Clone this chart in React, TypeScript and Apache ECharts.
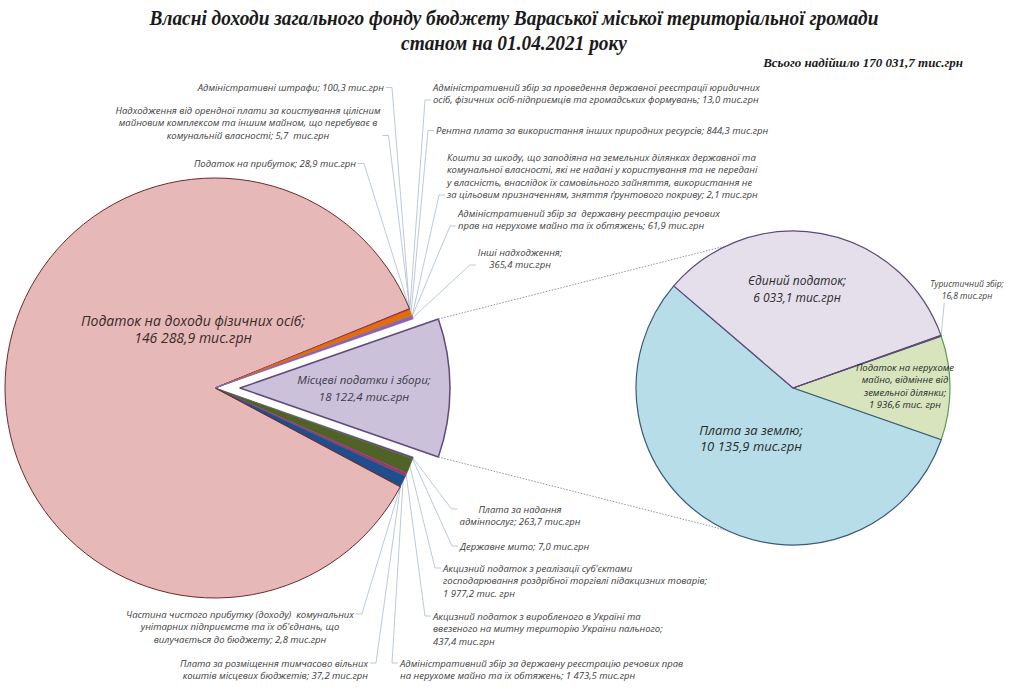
import React, { useEffect, useRef } from "react";
import * as echarts from "echarts";

const TITLE_TEXT =
  "Власні доходи загального фонду бюджету Вараської міської територіальної громади\nстаном на 01.04.2021 року";
const TOTAL_TEXT = "Всього надійшло 170 031,7 тис.грн";

// Main pie (clockwise from the exploded slice)
const mainNames = [
  "Місцеві податки і збори",
  "Плата за надання адмінпослуг",
  "Державне мито",
  "Акцизний податок з реалізації суб'єктами господарювання роздрібної торгівлі підакцизних товарів",
  "Акцизний податок з виробленого в Україні та ввезеного на митну територію України пального",
  "Адміністративний збір за державну реєстрацію речових прав на нерухоме майно та їх обтяжень",
  "Плата за розміщення тимчасово вільних коштів місцевих бюджетів",
  "Частина чистого прибутку (доходу) комунальних унітарних підприємств",
  "Податок на доходи фізичних осіб",
  "Адміністративні штрафи",
  "Надходження від орендної плати",
  "Податок на прибуток",
  "Адміністративний збір за проведення державної реєстрації",
  "Рентна плата за використання інших природних ресурсів",
  "Кошти за шкоду",
  "Адміністративний збір за державну реєстрацію речових прав (61,9)",
  "Інші надходження",
];
const mainValues = [
  18122.4, 263.7, 7.0, 1977.2, 437.4, 1473.5, 37.2, 2.8, 146288.9, 100.3, 5.7,
  28.9, 13.0, 844.3, 2.1, 61.9, 365.4,
];
const mainLabels = [
  "Місцеві податки і збори;\n18 122,4 тис.грн",
  "Плата за надання\nадмінпослуг; 263,7 тис.грн",
  "Державне мито; 7,0 тис.грн",
  "Акцизний податок з реалізації суб'єктами\nгосподарювання роздрібної торгівлі підакцизних товарів;\n1 977,2 тис. грн",
  "Акцизний податок з виробленого в Україні та\nввезеного на митну територію України пального;\n437,4 тис.грн",
  "Адміністративний збір за державну реєстрацію речових прав\nна нерухоме майно та їх обтяжень; 1 473,5 тис.грн",
  "Плата за розміщення тимчасово вільних\nкоштів місцевих бюджетів; 37,2 тис.грн",
  "Частина чистого прибутку (доходу)  комунальних\nунітарних підприємств та їх об'єднань, що\nвилучається до бюджету; 2,8 тис.грн",
  "Податок на доходи фізичних осіб;\n146 288,9 тис.грн",
  "Адміністративні штрафи; 100,3 тис.грн",
  "Надходження від орендної плати за коистування цілісним\nмайновим комплексом та іншим майном, що перебуває в\nкомунальній власності; 5,7  тис.грн",
  "Податок на прибуток; 28,9 тис.грн",
  "Адміністративний збір за проведення державної реєстрації юридичних\nосіб, фізичних осіб-підприємців та громадських формувань; 13,0 тис.грн",
  "Рентна плата за використання інших природних ресурсів; 844,3 тис.грн",
  "Кошти за шкоду, що заподіяна на земельних ділянках державної та\nкомунальної власності, які не надані у користування та не передані\nу власність, внаслідок їх самовільного зайняття, використання не\nза цільовим призначенням, зняття ґрунтового покриву; 2,1 тис.грн",
  "Адміністративний збір за  державну реєстрацію речових\nправ на нерухоме майно та їх обтяжень; 61,9 тис.грн",
  "Інші надходження;\n365,4 тис.грн",
];

// Secondary pie (breakdown of "Місцеві податки і збори")
const subNames = [
  "Податок на нерухоме майно, відмінне від земельної ділянки",
  "Плата за землю",
  "Єдиний податок",
  "Туристичний збір",
];
const subValues = [1936.6, 10135.9, 6033.1, 16.8];
const subLabels = [
  "Податок на нерухоме\nмайно, відмінне від\nземельної ділянки;\n1 936,6 тис. грн",
  "Плата за землю;\n10 135,9 тис.грн",
  "Єдиний податок;\n6 033,1 тис.грн",
  "Туристичний збір;\n16,8 тис.грн",
];

// ---- styles & layout (kept apart from the data) ----
const mainColors = [
  "#ccc1da", "#5f4b7a", "#7f7f7f", "#4f6228", "#a3336b", "#1f4e8c", "#403152",
  "#632523", "#e6b9b8", "#8b2e4a", "#7030a0", "#c0504d", "#953735", "#e46c0a",
  "#4bacc6", "#8064a2", "#8e5fb5",
];
const subColors = ["#d7e4bd", "#b7dee8", "#e5dfec", "#5f497a"];
const subBorders = ["#5e9e4f", "#3b5a78", "#5f497a", "#5f497a"];

const mainLabelX = [382, 520, 460, 443, 433, 400, 368, 240, 193, 384, 248, 356, 433, 436, 447, 458, 520];
const mainLabelY = [385, 503, 540, 562, 610, 657, 657, 608, 329, 81, 104, 157, 81, 124, 151, 207, 246];
const mainLabelAlign = [
  "center", "center", "left", "left", "left", "left", "right", "center", "center",
  "right", "center", "right", "left", "left", "left", "left", "center",
];
const subLabelX = [905, 751, 797, 967];
const subLabelY = [386, 438, 289, 277];

const C1 = [215, 388];
const R1 = 210;
const OFFSET = 25;
const C2 = [793, 388];
const R2 = 157;
const LINK_ANGLE = 115;

const FONT = "'Open Sans', 'Noto Sans', sans-serif";
const SMALL = { fontFamily: FONT, fontStyle: "italic", fontSize: 9.5, lineHeight: 12.5, color: "#404040" };

function buildOption() {
  const total = mainValues.reduce((a, b) => a + b, 0);
  const halfDeg = (mainValues[0] / total) * 180;
  const subTotal = subValues.reduce((a, b) => a + b, 0);
  const subHalf = (subValues[0] / subTotal) * 180;
  const rad = (d: number) => (d * Math.PI) / 180;
  const cornerTop = [C1[0] + OFFSET + R1 * Math.cos(rad(halfDeg)), C1[1] - R1 * Math.sin(rad(halfDeg))];
  const cornerBot = [C1[0] + OFFSET + R1 * Math.cos(rad(halfDeg)), C1[1] + R1 * Math.sin(rad(halfDeg))];
  const endTop = [C2[0] + R2 * Math.cos(rad(LINK_ANGLE)), C2[1] - R2 * Math.sin(rad(LINK_ANGLE))];
  const endBot = [C2[0] + R2 * Math.cos(rad(LINK_ANGLE)), C2[1] + R2 * Math.sin(rad(LINK_ANGLE))];
  const inside = (i: number) => i === 0 || i === 8;

  const mainData = mainNames.map((n, i) => {
    const style = {
      color: mainColors[i],
      borderColor: i === 0 ? "#604a7b" : i === 8 ? "#6e2a2a" : mainColors[i],
      borderWidth: i === 0 ? 1.5 : i === 8 ? 1 : 0.4,
    };
    const item: any = {
      name: n,
      value: mainValues[i],
      itemStyle: style,
      select: { itemStyle: style },
    };
    if (i === 0) item.selected = true;
    if (inside(i)) {
      const lbl: any = {
        position: "inside",
        fontFamily: FONT,
        fontStyle: "italic",
        fontSize: i === 0 ? 11.5 : 14,
        lineHeight: 17,
        color: i === 0 ? "#3a3a4a" : "#3a2a2a",
        align: "center",
      };
      if (i === 0) lbl.padding = [0, 0, 3, 38];
      item.label = lbl;
      if (i === 0) item.select.label = lbl;
      item.labelLine = { show: false };
    }
    return item;
  });

  const subData = subNames.map((n, i) => {
    const style = { color: subColors[i], borderColor: subBorders[i], borderWidth: i === 3 ? 1 : 1.2 };
    const item: any = { name: n, value: subValues[i], itemStyle: style };
    if (i < 3) {
      item.label = {
        position: "inside",
        fontFamily: FONT,
        fontStyle: "italic",
        fontSize: i === 0 ? 9.5 : i === 1 ? 13 : 12,
        lineHeight: i === 0 ? 12.5 : i === 1 ? 16 : 17,
        color: "#2a2a2a",
        align: "center",
      };
      item.labelLine = { show: false };
    }
    return item;
  });

  const serif = "'Liberation Serif', 'DejaVu Serif', serif";

  return {
    animation: false,
    backgroundColor: "#ffffff",
    graphic: [
      {
        type: "text",
        x: 514,
        y: 5,
        scaleX: 0.9,
        style: {
          text: TITLE_TEXT,
          align: "center",
          verticalAlign: "top",
          fontFamily: serif,
          fontStyle: "italic",
          fontWeight: "bold",
          fontSize: 21.5,
          lineHeight: 25,
          fill: "#1a1a1a",
        },
      },
      {
        type: "text",
        x: 963,
        y: 56,
        style: {
          text: TOTAL_TEXT,
          align: "right",
          verticalAlign: "top",
          fontFamily: serif,
          fontStyle: "italic",
          fontWeight: "bold",
          fontSize: 13,
          fill: "#1a1a1a",
        },
      },
      {
        type: "line",
        shape: { x1: cornerTop[0], y1: cornerTop[1], x2: endTop[0], y2: endTop[1] },
        style: { stroke: "#7f93ad", lineWidth: 1, lineDash: [1.5, 1.5] },
        z: 10,
      },
      {
        type: "line",
        shape: { x1: cornerBot[0], y1: cornerBot[1], x2: endBot[0], y2: endBot[1] },
        style: { stroke: "#7f93ad", lineWidth: 1, lineDash: [1.5, 1.5] },
        z: 10,
      },
    ],
    series: [
      {
        type: "pie",
        center: C1,
        radius: R1,
        startAngle: halfDeg,
        clockwise: true,
        selectedMode: "single",
        selectedOffset: OFFSET,
        avoidLabelOverlap: false,
        emphasis: { disabled: true },
        label: {
          show: true,
          position: "outside",
          formatter: (p: any) => mainLabels[p.dataIndex],
          ...SMALL,
        },
        labelLine: { show: true, length: 10, length2: 10, lineStyle: { color: "#a9bccf", width: 0.8 } },
        labelLayout: (p: any) => {
          const i = p.dataIndex;
          if (i === 0) return {};
          const lx = mainLabelX[i];
          const ly = mainLabelY[i];
          const al = mainLabelAlign[i];
          if (inside(i)) return { x: lx, y: ly, align: "center", verticalAlign: "middle" };
          const w = p.labelRect.width;
          const h = p.labelRect.height;
          const left = al === "left" ? lx : al === "center" ? lx - w / 2 : lx - w;
          const pts = p.labelLinePoints;
          if (!pts) return { x: lx, y: ly, align: al, verticalAlign: "top" };
          const p0 = pts[0];
          const hookLeft = left + w / 2 > p0[0];
          const hx = hookLeft ? left - 2 : left + w + 2;
          const hy = ly < p0[1] ? ly + h - 6 : ly + 6;
          const sx = hookLeft ? hx - 6 : hx + 6;
          return {
            x: lx,
            y: ly,
            align: al,
            verticalAlign: "top",
            labelLinePoints: [p0, [sx, hy], [hx, hy]],
          };
        },
        data: mainData,
      },
      {
        type: "pie",
        center: C2,
        radius: R2,
        startAngle: subHalf,
        clockwise: true,
        avoidLabelOverlap: false,
        emphasis: { disabled: true },
        label: {
          show: true,
          position: "outside",
          formatter: (p: any) => subLabels[p.dataIndex],
          ...SMALL,
          fontSize: 8.5,
          align: "center",
        },
        labelLine: { show: true, length: 10, length2: 10, lineStyle: { color: "#a9bccf", width: 0.8 } },
        labelLayout: (p: any) => {
          const i = p.dataIndex;
          const lx = subLabelX[i];
          const ly = subLabelY[i];
          if (i < 3) return { x: lx, y: ly, align: "center", verticalAlign: "middle" };
          const w = p.labelRect.width;
          const h = p.labelRect.height;
          const pts = p.labelLinePoints;
          if (!pts) return { x: lx, y: ly, align: "center", verticalAlign: "top" };
          const p0 = pts[0];
          return {
            x: lx,
            y: ly,
            align: "center",
            verticalAlign: "top",
            labelLinePoints: [p0, [lx - w / 2 + 14, ly + h + 1]],
          };
        },
        data: subData,
      },
    ],
  };
}

export default function App() {
  const ref = useRef<HTMLDivElement>(null);
  useEffect(() => {
    if (!ref.current) return;
    const chart = echarts.init(ref.current, null, { renderer: "svg" });
    chart.setOption(buildOption() as any);
    return () => chart.dispose();
  }, []);
  return (
    <div
      ref={ref}
      style={{ position: "fixed", left: 0, top: 0, width: 1025, height: 699, background: "#fff" }}
    />
  );
}
